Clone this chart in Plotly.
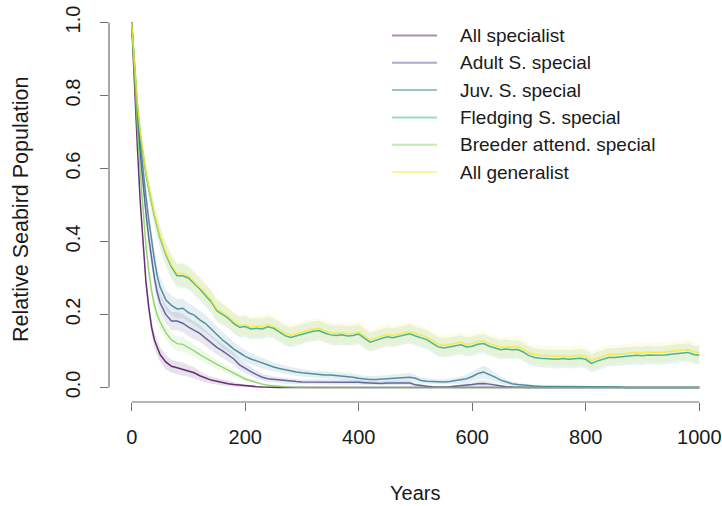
import plotly.graph_objects as go

# Simulation years (dense sampling early, then every 10 years)
YEARS = [0, 5, 10, 15, 20, 25, 30, 35, 40, 45] + list(range(50, 1001, 10))

SCENARIOS = ["All specialist", "Adult S. special", "Juv. S. special",
             "Fledging S. special", "Breeder attend. special", "All generalist"]

ZEROS10 = [0.0] * 10
ZEROS6 = [0.0] * 6

# Mean relative population per scenario
ALL_SPEC = ([1.0, 0.82, 0.66, 0.51, 0.39, 0.29, 0.22, 0.165, 0.13, 0.107]
            + [0.09, 0.07, 0.058, 0.054, 0.05, 0.045, 0.04, 0.032, 0.025, 0.02]
            + [0.017, 0.013, 0.01, 0.008, 0.006, 0.004, 0.003, 0.002, 0.001, 0.0]
            + ZEROS10 * 7 + ZEROS6)
ADULT = ([1.0, 0.86, 0.74, 0.64, 0.555, 0.48, 0.41, 0.35, 0.3, 0.26]
         + [0.232, 0.2, 0.182, 0.182, 0.176, 0.165, 0.156, 0.148, 0.135, 0.122]
         + [0.11, 0.1, 0.09, 0.078, 0.062, 0.052, 0.043, 0.035, 0.028, 0.024]
         + [0.022, 0.02, 0.018, 0.017, 0.016, 0.015, 0.015, 0.016, 0.016, 0.015]
         + [0.015, 0.015, 0.014, 0.014, 0.015, 0.014, 0.013, 0.012, 0.011, 0.011]
         + [0.012, 0.012, 0.012, 0.013, 0.012, 0.007, 0.004, 0.003, 0.002, 0.001]
         + [0.001, 0.002, 0.003, 0.004, 0.006, 0.008, 0.01, 0.011, 0.009, 0.006]
         + [0.003, 0.002, 0.001, 0.0, 0.0, 0.0, 0.0, 0.0, 0.0, 0.0]
         + ZEROS10 * 2 + ZEROS6)
JUV = ([1.0, 0.87, 0.76, 0.67, 0.59, 0.525, 0.46, 0.4, 0.35, 0.305]
       + [0.275, 0.24, 0.225, 0.215, 0.217, 0.205, 0.198, 0.185, 0.175, 0.16]
       + [0.145, 0.13, 0.118, 0.105, 0.095, 0.085, 0.078, 0.072, 0.066, 0.06]
       + [0.056, 0.052, 0.048, 0.045, 0.042, 0.04, 0.038, 0.036, 0.035, 0.034]
       + [0.034, 0.033, 0.032, 0.03, 0.028, 0.025, 0.023, 0.022, 0.022, 0.023]
       + [0.024, 0.025, 0.026, 0.027, 0.028, 0.025, 0.019, 0.017, 0.016, 0.015]
       + [0.015, 0.016, 0.018, 0.02, 0.024, 0.03, 0.038, 0.042, 0.036, 0.028]
       + [0.02, 0.014, 0.01, 0.008, 0.006, 0.005, 0.004, 0.003, 0.003, 0.003]
       + [0.002] * 10
       + [0.001, 0.001, 0.0, 0.0, 0.0, 0.0, 0.0, 0.0, 0.0, 0.0]
       + ZEROS6)
FLEDGING = ([1.0, 0.875, 0.775, 0.695, 0.635, 0.585, 0.545, 0.505, 0.47, 0.44]
            + [0.41, 0.365, 0.33, 0.306, 0.306, 0.3, 0.285, 0.27, 0.252, 0.235]
            + [0.21, 0.2, 0.19, 0.175, 0.165, 0.167, 0.16, 0.162, 0.16, 0.166]
            + [0.162, 0.152, 0.142, 0.137, 0.142, 0.146, 0.15, 0.154, 0.156, 0.149]
            + [0.144, 0.142, 0.144, 0.141, 0.142, 0.146, 0.134, 0.124, 0.129, 0.134]
            + [0.139, 0.136, 0.139, 0.144, 0.147, 0.141, 0.135, 0.131, 0.121, 0.111]
            + [0.108, 0.111, 0.115, 0.117, 0.111, 0.113, 0.118, 0.12, 0.113, 0.107]
            + [0.103, 0.105, 0.103, 0.104, 0.097, 0.087, 0.082, 0.08, 0.078, 0.078]
            + [0.077, 0.079, 0.077, 0.078, 0.08, 0.077, 0.066, 0.072, 0.077, 0.082]
            + [0.082, 0.084, 0.086, 0.087, 0.088, 0.087, 0.089, 0.088, 0.088, 0.089]
            + [0.091, 0.092, 0.094, 0.096, 0.09, 0.088])
BREEDER = ([1.0, 0.84, 0.71, 0.59, 0.48, 0.39, 0.32, 0.265, 0.225, 0.198]
           + [0.18, 0.15, 0.13, 0.12, 0.118, 0.11, 0.1, 0.09, 0.082, 0.072]
           + [0.063, 0.055, 0.046, 0.038, 0.03, 0.023, 0.018, 0.013, 0.009, 0.006]
           + [0.004, 0.003, 0.002, 0.001, 0.0, 0.0, 0.0, 0.0, 0.0, 0.0]
           + ZEROS10 * 6 + ZEROS6)
GENERALIST = ([1.0, 0.88, 0.78, 0.7, 0.64, 0.59, 0.55, 0.51, 0.475, 0.445]
              + [0.415, 0.37, 0.335, 0.312, 0.312, 0.305, 0.29, 0.275, 0.258, 0.24]
              + [0.215, 0.205, 0.195, 0.18, 0.17, 0.172, 0.165, 0.168, 0.166, 0.172]
              + [0.168, 0.158, 0.148, 0.143, 0.148, 0.152, 0.156, 0.16, 0.162, 0.155]
              + [0.15, 0.148, 0.15, 0.147, 0.148, 0.152, 0.14, 0.13, 0.135, 0.14]
              + [0.145, 0.142, 0.145, 0.15, 0.153, 0.148, 0.142, 0.138, 0.128, 0.118]
              + [0.115, 0.118, 0.122, 0.124, 0.118, 0.12, 0.125, 0.127, 0.12, 0.114]
              + [0.11, 0.112, 0.11, 0.112, 0.105, 0.095, 0.09, 0.088, 0.086, 0.086]
              + [0.085, 0.087, 0.085, 0.086, 0.088, 0.085, 0.074, 0.08, 0.085, 0.09]
              + [0.09, 0.092, 0.094, 0.095, 0.096, 0.095, 0.097, 0.096, 0.096, 0.097]
              + [0.099, 0.1, 0.102, 0.104, 0.098, 0.096])

# Half-width of the confidence band around each mean
ALL_SPEC_CI = ([0.0, 0.01, 0.015, 0.018, 0.02, 0.02, 0.02, 0.02, 0.02, 0.02]
               + [0.02, 0.02, 0.018, 0.018, 0.018, 0.016, 0.015, 0.013, 0.011, 0.01]
               + [0.009, 0.008, 0.007, 0.006, 0.005, 0.004, 0.003, 0.002, 0.001, 0.0]
               + ZEROS10 * 7 + ZEROS6)
ADULT_CI = ([0.0, 0.01, 0.015, 0.018, 0.02, 0.022, 0.024, 0.025, 0.025, 0.025]
            + [0.025, 0.025, 0.025, 0.025, 0.025, 0.025, 0.024, 0.023, 0.022, 0.021]
            + [0.02, 0.019, 0.018, 0.017, 0.015, 0.014, 0.012, 0.011, 0.01, 0.009]
            + [0.008, 0.008, 0.008, 0.007, 0.007, 0.007, 0.007, 0.007, 0.007, 0.007]
            + [0.007, 0.007, 0.007, 0.007, 0.007, 0.007, 0.006, 0.006, 0.006, 0.006]
            + [0.006, 0.006, 0.006, 0.007, 0.006, 0.005, 0.004, 0.003, 0.002, 0.001]
            + [0.001, 0.002, 0.003, 0.004, 0.005, 0.006, 0.008, 0.009, 0.008, 0.005]
            + [0.003, 0.002, 0.001, 0.0, 0.0, 0.0, 0.0, 0.0, 0.0, 0.0]
            + ZEROS10 * 2 + ZEROS6)
JUV_CI = ([0.0, 0.01, 0.015, 0.018, 0.02, 0.022, 0.024, 0.025, 0.026, 0.027]
          + [0.027, 0.027, 0.027, 0.027, 0.027, 0.026, 0.025, 0.025, 0.024, 0.023]
          + [0.022, 0.021, 0.02, 0.019, 0.018, 0.017, 0.016, 0.015, 0.014, 0.013]
          + [0.012, 0.012, 0.011, 0.011, 0.011, 0.01, 0.01, 0.01, 0.01, 0.01]
          + [0.01, 0.01, 0.01, 0.01, 0.01, 0.009, 0.009, 0.009, 0.009, 0.009]
          + [0.009, 0.01, 0.01, 0.011, 0.012, 0.01, 0.008, 0.007, 0.007, 0.007]
          + [0.007, 0.008, 0.009, 0.01, 0.012, 0.014, 0.016, 0.018, 0.016, 0.013]
          + [0.01, 0.008, 0.006, 0.005, 0.004, 0.003, 0.003, 0.002, 0.002, 0.002]
          + [0.0015] * 10
          + [0.001, 0.001, 0.0, 0.0, 0.0, 0.0, 0.0, 0.0, 0.0, 0.0]
          + ZEROS6)
FLEDGING_CI = ([0.0, 0.01, 0.015, 0.02, 0.022, 0.024, 0.026, 0.027, 0.028, 0.029]
               + [0.03, 0.031, 0.032, 0.032, 0.032, 0.031, 0.031, 0.03, 0.03, 0.03]
               + [0.029, 0.029, 0.028, 0.028, 0.028, 0.028, 0.028, 0.028, 0.028, 0.028]
               + [0.027, 0.027, 0.027, 0.027, 0.027, 0.027, 0.027, 0.027, 0.027, 0.027]
               + [0.027, 0.027, 0.027, 0.027, 0.027, 0.027, 0.026, 0.026, 0.026, 0.026]
               + [0.026, 0.026, 0.026, 0.026, 0.026, 0.026, 0.026, 0.026, 0.026, 0.026]
               + [0.026, 0.026, 0.026, 0.026, 0.026, 0.026, 0.026, 0.026, 0.026, 0.026]
               + [0.026, 0.026, 0.025, 0.025, 0.025, 0.025, 0.025, 0.025, 0.025, 0.025]
               + [0.025, 0.025, 0.025, 0.025, 0.025, 0.025, 0.025, 0.025, 0.025, 0.025]
               + [0.025, 0.025, 0.025, 0.025, 0.025, 0.025, 0.025, 0.025, 0.025, 0.025]
               + [0.025, 0.025, 0.025, 0.025, 0.025, 0.025])
BREEDER_CI = ([0.0, 0.01, 0.015, 0.018, 0.02, 0.02, 0.02, 0.02, 0.02, 0.02]
              + [0.02, 0.02, 0.02, 0.02, 0.02, 0.018, 0.017, 0.016, 0.015, 0.014]
              + [0.012, 0.011, 0.01, 0.009, 0.008, 0.007, 0.006, 0.005, 0.004, 0.003]
              + [0.002, 0.002, 0.001, 0.001, 0.0, 0.0, 0.0, 0.0, 0.0, 0.0]
              + ZEROS10 * 6 + ZEROS6)
GENERALIST_CI = ([0.0, 0.01, 0.015, 0.02, 0.022, 0.024, 0.026, 0.027, 0.028, 0.029]
                 + [0.03, 0.031, 0.032, 0.032, 0.032, 0.031, 0.031, 0.03, 0.03, 0.03]
                 + [0.03, 0.03, 0.029, 0.029, 0.029, 0.029, 0.029, 0.029, 0.029, 0.029]
                 + [0.028, 0.028, 0.028, 0.028, 0.028, 0.028, 0.028, 0.028, 0.028, 0.028]
                 + [0.028, 0.028, 0.028, 0.028, 0.028, 0.028, 0.028, 0.028, 0.028, 0.028]
                 + [0.028, 0.028, 0.028, 0.028, 0.028, 0.028, 0.027, 0.027, 0.027, 0.027]
                 + [0.027, 0.027, 0.027, 0.027, 0.027, 0.027, 0.027, 0.027, 0.027, 0.027]
                 + [0.027, 0.027, 0.027, 0.027, 0.027, 0.026, 0.026, 0.026, 0.026, 0.026]
                 + [0.026, 0.026, 0.026, 0.026, 0.026, 0.026, 0.026, 0.026, 0.026, 0.026]
                 + [0.026, 0.026, 0.026, 0.026, 0.026, 0.026, 0.026, 0.026, 0.026, 0.026]
                 + [0.026, 0.026, 0.026, 0.026, 0.026, 0.026])

MEANS = [ALL_SPEC, ADULT, JUV, FLEDGING, BREEDER, GENERALIST]
HALF_WIDTHS = [ALL_SPEC_CI, ADULT_CI, JUV_CI, FLEDGING_CI, BREEDER_CI, GENERALIST_CI]

# viridis(6)
VIRIDIS = [(68, 1, 84), (65, 68, 135), (42, 120, 142),
           (34, 168, 132), (122, 209, 81), (253, 231, 37)]

X_TICKS = [0, 200, 400, 600, 800, 1000]
Y_TICKS = [0.0, 0.2, 0.4, 0.6, 0.8, 1.0]
Y_TICK_TEXT = ["0.0", "0.2", "0.4", "0.6", "0.8", "1.0"]


def rgba(c, a):
    return f"rgba({c[0]},{c[1]},{c[2]},{a})"


FONT = "Liberation Sans, Arial, Helvetica, sans-serif"
TEXT_COLOR = "#1a1a1a"
AXIS_COLOR = "#6e6e6e"

W, H = 722, 506
M_L, M_R, M_T, M_B = 109, 0, 8, 104

fig = go.Figure()

# confidence bands first
for mean, hw, col in zip(MEANS, HALF_WIDTHS, VIRIDIS):
    upper = [m + h for m, h in zip(mean, hw)]
    lower = [max(m - h, 0.0) for m, h in zip(mean, hw)]
    fig.add_trace(go.Scatter(
        x=YEARS + YEARS[::-1], y=upper + lower[::-1],
        fill="toself", fillcolor=rgba(col, 0.12),
        line=dict(width=0), mode="lines", hoverinfo="skip", showlegend=False))

# mean trajectories
for name, mean, col in zip(SCENARIOS, MEANS, VIRIDIS):
    fig.add_trace(go.Scatter(
        x=YEARS, y=mean, mode="lines", name=name,
        line=dict(color=rgba(col, 0.8), width=1.5), showlegend=False))

# R-style axis lines spanning first to last tick
fig.add_shape(type="line", xref="x", yref="paper", x0=0, x1=1000, y0=0, y1=0,
              line=dict(color=AXIS_COLOR, width=1.2))
fig.add_shape(type="line", xref="paper", yref="y", x0=0, x1=0, y0=0, y1=1,
              line=dict(color=AXIS_COLOR, width=1.2))

# legend, drawn in the upper right of the plot area
plot_w = W - M_L - M_R
plot_h = H - M_T - M_B


def px_to_paper(px, py):
    return (px - M_L) / plot_w, (H - M_B - py) / plot_h


LEG_X0, LEG_X1, LEG_TEXT_X, LEG_Y0, LEG_DY = 392, 437, 458, 35.5, 27.3
for i, (name, col) in enumerate(zip(SCENARIOS, VIRIDIS)):
    py = LEG_Y0 + i * LEG_DY
    xa, ya = px_to_paper(LEG_X0, py)
    xb, _ = px_to_paper(LEG_X1, py)
    xt, _ = px_to_paper(LEG_TEXT_X, py)
    fig.add_shape(type="line", xref="paper", yref="paper",
                  x0=xa, x1=xb, y0=ya, y1=ya,
                  line=dict(color=rgba(col, 0.45), width=2))
    fig.add_annotation(x=xt, y=ya, xref="paper", yref="paper", text=name,
                       showarrow=False, xanchor="left", yanchor="middle",
                       font=dict(family=FONT, size=19, color=TEXT_COLOR))

# axis titles
tx, ty = px_to_paper(415, 493)
fig.add_annotation(x=tx, y=ty, xref="paper", yref="paper", text="Years",
                   showarrow=False, xanchor="center", yanchor="middle",
                   font=dict(family=FONT, size=20, color=TEXT_COLOR))
tx, ty = px_to_paper(21, 210)
fig.add_annotation(x=tx, y=ty, xref="paper", yref="paper",
                   text="Relative Seabird Population", textangle=-90,
                   showarrow=False, xanchor="center", yanchor="middle",
                   font=dict(family=FONT, size=21.5, color=TEXT_COLOR))

fig.update_layout(
    width=W, height=H,
    margin=dict(l=M_L, r=M_R, t=M_T, b=M_B, pad=0),
    paper_bgcolor="white", plot_bgcolor="white",
    showlegend=False,
    xaxis=dict(range=[-40, 1040], showgrid=False, zeroline=False, showline=False,
               tickmode="array", tickvals=X_TICKS,
               ticktext=[str(v) for v in X_TICKS],
               ticks="outside", ticklen=8, tickwidth=1.2, tickcolor=AXIS_COLOR,
               ticklabelstandoff=9,
               tickfont=dict(family=FONT, size=20, color=TEXT_COLOR)),
    yaxis=dict(range=[-0.04, 1.04], showgrid=False, zeroline=False, showline=False,
               tickmode="array", tickvals=Y_TICKS, ticktext=Y_TICK_TEXT,
               ticks="outside", ticklen=8, tickwidth=1.2, tickcolor=AXIS_COLOR,
               tickangle=-90, ticklabelstandoff=12,
               tickfont=dict(family=FONT, size=20, color=TEXT_COLOR)),
)

fig.write_html("out.html")
